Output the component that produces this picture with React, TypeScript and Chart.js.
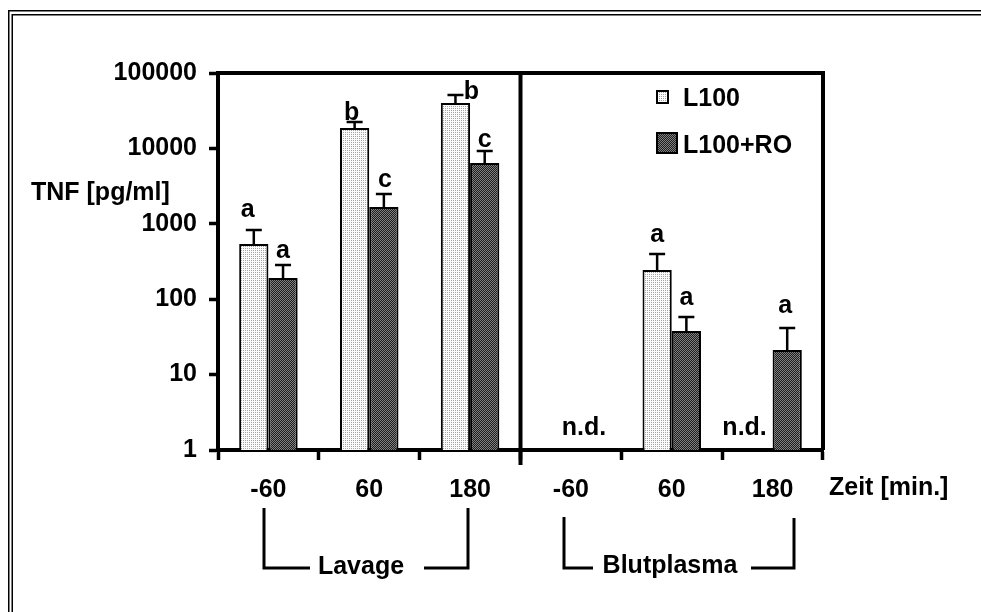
import React, { useEffect, useRef } from 'react';
import { Chart, registerables } from 'chart.js';

Chart.register(...registerables);

// ---------- data ----------
const categories = ['-60', '60', '180', '-60', '60', '180'];
const groupNames = ['Lavage', 'Blutplasma'];
const seriesNames = ['L100', 'L100+RO'];
const l100Values = [540, 18700, 40000, null, 244, null];
const l100ErrTop = [828, 22400, 51100, null, 398, null];
const roValues = [191, 1670, 6400, null, 38, 21.2];
const roErrTop = [284, 2485, 9240, null, 58, 41.5];
const l100Letters = ['a', 'b', 'b', null, 'a', null];
const roLetters = ['a', 'c', 'c', null, 'a', 'a'];
const ndCategories = [3, 5];
const ndText = 'n.d.';
const yTickValues = [1, 10, 100, 1000, 10000, 100000];
const yTitle = 'TNF [pg/ml]';
const xTitle = 'Zeit [min.]';

// ---------- layout (text placement tweaks, not data) ----------
const FONT = '"Liberation Sans", Arial, sans-serif';
const FS = 25;
const BOLD = `bold ${FS}px ${FONT}`;
const l100LetterGap = [13, 2, -4, 0, 12, 0];
const l100LetterDx = [-6, -3, 16, 0, 0, 0];
const roLetterGap = [7, 7, 4, 0, 12, 15];
const roLetterDx = [0, 1, 0, 0, 0, -2];
const ndDx = [13, -28];

function makePattern(ctx: CanvasRenderingContext2D, base: string, dot: string, checker: boolean) {
  const c = document.createElement('canvas');
  c.width = 2;
  c.height = 2;
  const g = c.getContext('2d')!;
  g.fillStyle = base;
  g.fillRect(0, 0, 2, 2);
  g.fillStyle = dot;
  if (checker) {
    g.fillRect(0, 0, 1, 1);
    g.fillRect(1, 1, 1, 1);
  } else {
    g.fillRect(1, 0, 1, 1);
  }
  return ctx.createPattern(c, 'repeat')!;
}

const overlay = {
  id: 'overlay',
  afterDraw(chart: any) {
    const ctx: CanvasRenderingContext2D = chart.ctx;
    const { left, right, top, bottom } = chart.chartArea;
    const xs = chart.scales.x;
    const ys = chart.scales.y;
    ctx.save();
    ctx.strokeStyle = '#000';
    ctx.fillStyle = '#000';

    // outer double frame
    ctx.lineWidth = 1.5;
    ctx.beginPath();
    ctx.moveTo(8.75, 700);
    ctx.lineTo(8.75, 10.75);
    ctx.lineTo(1200, 10.75);
    ctx.stroke();
    ctx.beginPath();
    ctx.moveTo(12.25, 700);
    ctx.lineTo(12.25, 14.75);
    ctx.lineTo(1200, 14.75);
    ctx.stroke();

    // top and right border of plot, divider
    ctx.lineWidth = 4;
    ctx.beginPath();
    ctx.moveTo(left - 2, top);
    ctx.lineTo(right, top);
    ctx.lineTo(right, bottom);
    ctx.stroke();
    const mid = (xs.getPixelForValue(2) + xs.getPixelForValue(3)) / 2;
    ctx.beginPath();
    ctx.moveTo(mid, top);
    ctx.lineTo(mid, bottom + 15);
    ctx.stroke();

    // error bars and letters
    const errs = [l100ErrTop, roErrTop];
    const letters = [l100Letters, roLetters];
    const gaps = [l100LetterGap, roLetterGap];
    const dxs = [l100LetterDx, roLetterDx];
    ctx.font = BOLD;
    ctx.textAlign = 'center';
    ctx.textBaseline = 'alphabetic';
    for (let d = 0; d < 2; d++) {
      const meta = chart.getDatasetMeta(d);
      meta.data.forEach((el: any, i: number) => {
        const e = errs[d][i];
        if (e == null || chart.data.datasets[d].data[i] == null) return;
        const yE = ys.getPixelForValue(e);
        ctx.lineWidth = 2.5;
        ctx.beginPath();
        ctx.moveTo(el.x, el.y);
        ctx.lineTo(el.x, yE);
        ctx.moveTo(el.x - 8, yE);
        ctx.lineTo(el.x + 8, yE);
        ctx.stroke();
        const L = letters[d][i];
        if (L) ctx.fillText(L, el.x + dxs[d][i], yE - gaps[d][i]);
      });
    }

    // n.d.
    ndCategories.forEach((c, k) => {
      ctx.fillText(ndText, xs.getPixelForValue(c) + ndDx[k], bottom - 15);
    });

    // legend
    const pats = [chart.data.datasets[0].backgroundColor, chart.data.datasets[1].backgroundColor];
    const boxes = [
      [657, 91, 11, 12, 106],
      [657, 133, 20, 20, 153],
    ];
    ctx.textAlign = 'left';
    boxes.forEach((b, k) => {
      ctx.fillStyle = pats[k];
      ctx.fillRect(b[0], b[1], b[2], b[3]);
      ctx.lineWidth = 2;
      ctx.strokeRect(b[0], b[1], b[2], b[3]);
      ctx.fillStyle = '#000';
      ctx.fillText(seriesNames[k], 683, b[4]);
    });

    // axis titles
    ctx.fillText(yTitle, 31, 200);
    ctx.fillText(xTitle, 829, 495);

    // group brackets
    ctx.lineWidth = 3;
    ctx.lineJoin = 'miter';
    const brackets = [
      { l: 264, r: 468, tl: 508, tr: 508, b: 568, gl: 310, gr: 424, cx: 361, by: 574 },
      { l: 564, r: 794, tl: 517, tr: 518, b: 568, gl: 593, gr: 751, cx: 670, by: 573 },
    ];
    brackets.forEach((br, k) => {
      ctx.beginPath();
      ctx.moveTo(br.l, br.tl);
      ctx.lineTo(br.l, br.b);
      ctx.lineTo(br.gl, br.b);
      ctx.moveTo(br.gr, br.b);
      ctx.lineTo(br.r, br.b);
      ctx.lineTo(br.r, br.tr);
      ctx.stroke();
      ctx.textAlign = 'center';
      ctx.fillText(groupNames[k], br.cx, br.by);
    });

    ctx.restore();
  },
};

export default function App() {
  const ref = useRef<HTMLCanvasElement>(null);
  useEffect(() => {
    const canvas = ref.current!;
    const ctx = canvas.getContext('2d')!;
    const lightPat = makePattern(ctx, '#fbfbfb', '#a4a4a4', false);
    const darkPat = makePattern(ctx, '#1e1e1e', '#808080', true);
    const chart = new Chart(ctx, {
      type: 'bar',
      data: {
        labels: categories,
        datasets: [
          {
            label: seriesNames[0],
            data: l100Values as any,
            backgroundColor: lightPat as any,
            borderColor: '#000',
            borderWidth: 2,
            borderSkipped: 'start',
            barPercentage: 1,
            categoryPercentage: 0.58,
          },
          {
            label: seriesNames[1],
            data: roValues as any,
            backgroundColor: darkPat as any,
            borderColor: '#000',
            borderWidth: 2,
            borderSkipped: 'start',
            barPercentage: 1,
            categoryPercentage: 0.58,
          },
        ],
      },
      options: {
        responsive: false,
        animation: false,
        devicePixelRatio: 1,
        layout: { padding: { top: 73, right: 158, left: 0, bottom: 0 } },
        plugins: { legend: { display: false }, tooltip: { enabled: false }, title: { display: false } },
        scales: {
          x: {
            type: 'category',
            z: 1,
            afterFit: (s: any) => {
              s.height = 162;
            },
            ticks: {
              font: { family: FONT, size: FS, weight: 'bold' },
              color: '#000',
              padding: 15,
              autoSkip: false,
              maxRotation: 0,
            },
            grid: {
              display: true,
              drawOnChartArea: false,
              drawTicks: true,
              tickLength: 10,
              tickWidth: 3.5,
              color: '#000',
              offset: true,
            },
            border: { display: true, width: 4, color: '#000' },
          },
          y: {
            type: 'logarithmic',
            min: 1,
            max: 100000,
            z: 1,
            afterFit: (s: any) => {
              s.width = 218;
            },
            afterBuildTicks: (s: any) => {
              s.ticks = yTickValues.map((v) => ({ value: v }));
            },
            ticks: {
              callback: (v: any) => String(v),
              font: { family: FONT, size: FS, weight: 'bold' },
              color: '#000',
              padding: 12,
              autoSkip: false,
            },
            grid: {
              display: true,
              drawOnChartArea: false,
              drawTicks: true,
              tickLength: 9,
              tickWidth: 3.5,
              color: '#000',
            },
            border: { display: true, width: 4, color: '#000' },
          },
        },
      } as any,
      plugins: [overlay],
    });
    return () => chart.destroy();
  }, []);
  return (
    <div style={{ position: 'absolute', left: 0, top: 0, width: 981, height: 612, background: '#fff' }}>
      <canvas ref={ref} width={981} height={612} style={{ display: 'block', width: 981, height: 612 }} />
    </div>
  );
}
